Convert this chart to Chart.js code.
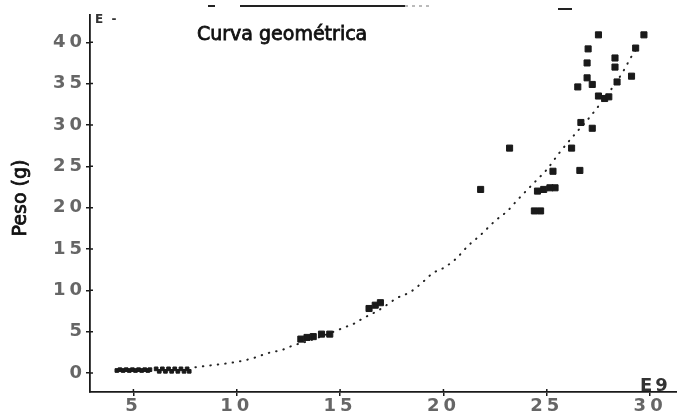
<!DOCTYPE html>
<html>
<head>
<meta charset="utf-8">
<script src="https://cdn.jsdelivr.net/npm/chart.js@4/dist/chart.umd.min.js"></script>
<style>
  html, body { margin: 0; padding: 0; background: #ffffff; }
  #wrap { width: 677px; height: 417px; }
</style>
</head>
<body>
<div id="wrap"><canvas id="chart" width="677" height="417"></canvas></div>
<script>
// Texts
const chartTitle = 'Curva geométrica';
const yAxisTitle = 'Peso (g)';
const xExponentLabel = 'E9';
const yExponentLabel = 'E -';

// Tick values
const xTickValues = [5, 10, 15, 20, 25, 30];
const yTickValues = [0, 5, 10, 15, 20, 25, 30, 35, 40];

// Small specimens near zero weight
const lowX = [4.2, 4.35, 4.5, 4.65, 4.8, 4.95, 5.1, 5.25, 5.4, 5.55, 5.7, 5.8,
              6.1, 6.25, 6.4, 6.55, 6.7, 6.85, 7.0, 7.15, 7.3, 7.45, 7.6, 7.7];
const lowY = [0.3, 0.4, 0.3, 0.4, 0.3, 0.4, 0.3, 0.4, 0.3, 0.4, 0.3, 0.4,
              0.5, 0.2, 0.5, 0.2, 0.5, 0.2, 0.5, 0.2, 0.5, 0.2, 0.5, 0.2];

// Measured weights
const pesoX = [13.1, 13.4, 13.7, 14.1, 14.5, 16.4, 16.7, 16.95, 21.8, 23.2, 24.4, 24.7,
               24.55, 24.85, 25.15, 25.4, 25.3, 26.6, 26.2, 26.65, 27.2, 27.5, 27.8, 28.0,
               26.5, 27.2, 28.4, 26.95, 29.1, 26.95, 28.3, 28.3, 27.0, 29.3, 27.5, 29.7];
const pesoY = [4.1, 4.3, 4.4, 4.7, 4.7, 7.8, 8.2, 8.5, 22.2, 27.2, 19.6, 19.6,
               22.0, 22.2, 22.4, 22.4, 24.4, 24.5, 27.2, 30.3, 29.6, 33.5, 33.2, 33.4,
               34.6, 34.9, 35.2, 35.7, 35.9, 37.5, 37.0, 38.1, 39.2, 39.3, 40.9, 40.9];

// Fitted geometric curve
const curvaX = [8.0, 9.0, 9.9, 10.8, 11.5, 12.2, 12.7, 13.5, 14.5, 15.2, 15.7, 16.1, 16.8, 17.3,
                17.7, 18.4, 19.0, 19.5, 20.0, 20.6, 21.2, 21.8, 22.5, 23.1, 23.5, 23.8, 24.5,
                25.0, 25.6, 26.4, 27.1, 27.6, 28.2, 28.7, 29.1, 29.4];
const curvaY = [0.7, 1.0, 1.3, 1.8, 2.4, 2.8, 3.3, 3.9, 4.8, 5.5, 6.0, 6.6, 7.5, 8.3,
                9.0, 9.8, 11.0, 12.1, 12.7, 13.8, 15.4, 16.7, 18.4, 19.6, 20.7, 21.5, 23.3,
                24.6, 26.6, 29.0, 31.0, 32.6, 34.6, 36.5, 38.3, 39.4];

const toPoints = (xs, ys) => xs.map((x, i) => ({ x: x, y: ys[i] }));

const INK = '#1a1a1a';
const tickFont = { family: 'DejaVu Sans', size: 18, weight: 'bold' };

// Spaced-out glyphs for the printer-style tick labels, plus inner tick marks and texts
const decorations = {
  id: 'decorations',
  beforeDraw(chart) {
    chart.ctx.letterSpacing = '4px';
  },
  afterDraw(chart) {
    const ctx = chart.ctx;
    ctx.letterSpacing = '0px';
    const xs = chart.scales.x, ys = chart.scales.y;
    const area = chart.chartArea;

    // inner halves of the cross-shaped tick marks
    ctx.save();
    ctx.strokeStyle = INK;
    ctx.lineWidth = 1.5;
    ctx.beginPath();
    yTickValues.forEach(v => {
      const py = ys.getPixelForValue(v);
      ctx.moveTo(area.left, py);
      ctx.lineTo(area.left + 3, py);
    });
    xTickValues.forEach(v => {
      const px = xs.getPixelForValue(v);
      ctx.moveTo(px, area.bottom);
      ctx.lineTo(px, area.bottom - 3);
    });
    ctx.stroke();

    // frame remnant along the top
    ctx.lineWidth = 2;
    ctx.strokeStyle = '#222';
    ctx.beginPath();
    ctx.moveTo(240, 6); ctx.lineTo(405, 6);
    ctx.moveTo(208, 6); ctx.lineTo(215, 6);
    ctx.moveTo(558, 9); ctx.lineTo(572, 9);
    ctx.stroke();
    ctx.lineWidth = 1;
    ctx.strokeStyle = '#777';
    ctx.setLineDash([3, 4]);
    ctx.beginPath();
    ctx.moveTo(405, 6); ctx.lineTo(432, 6);
    ctx.stroke();
    ctx.setLineDash([]);

    // title
    ctx.fillStyle = '#111';
    ctx.strokeStyle = '#111';
    ctx.lineWidth = 0.8;
    ctx.font = '19px "DejaVu Sans"';
    ctx.textAlign = 'left';
    ctx.textBaseline = 'alphabetic';
    ctx.fillText(chartTitle, 197, 40);
    ctx.strokeText(chartTitle, 197, 40);

    // y axis title
    ctx.save();
    ctx.translate(26, 198);
    ctx.rotate(-Math.PI / 2);
    ctx.textAlign = 'center';
    ctx.fillText(yAxisTitle, 0, 0);
    ctx.strokeText(yAxisTitle, 0, 0);
    ctx.restore();

    // exponent markers
    ctx.fillStyle = '#333';
    ctx.font = 'bold 18px "DejaVu Sans"';
    ctx.letterSpacing = '3px';
    ctx.textAlign = 'left';
    ctx.textBaseline = 'alphabetic';
    ctx.fillText(xExponentLabel, 640, 391);
    ctx.font = 'bold 12px "DejaVu Sans"';
    ctx.letterSpacing = '2px';
    ctx.fillText(yExponentLabel, 95, 23);
    ctx.letterSpacing = '0px';
    ctx.restore();
  }
};

new Chart(document.getElementById('chart'), {
  type: 'scatter',
  data: {
    datasets: [
      {
        label: 'Curva',
        type: 'line',
        data: toPoints(curvaX, curvaY),
        borderColor: '#222',
        borderWidth: 2,
        borderDash: [0.5, 7],
        borderCapStyle: 'round',
        pointRadius: 0,
        fill: false,
        cubicInterpolationMode: 'monotone',
        order: 2
      },
      {
        label: 'Peso bajo',
        data: toPoints(lowX, lowY),
        pointStyle: 'rect',
        pointRadius: 2.6,
        backgroundColor: INK,
        borderColor: INK,
        borderWidth: 1,
        order: 1
      },
      {
        label: 'Peso',
        data: toPoints(pesoX, pesoY),
        pointStyle: 'rect',
        pointRadius: 4.3,
        backgroundColor: INK,
        borderColor: INK,
        borderWidth: 1,
        order: 0
      }
    ]
  },
  options: {
    responsive: false,
    animation: false,
    devicePixelRatio: 1,
    layout: { autoPadding: false, padding: { top: 15, left: 0, right: 0, bottom: 0 } },
    plugins: {
      legend: { display: false },
      title: { display: false },
      tooltip: { enabled: false }
    },
    scales: {
      x: {
        type: 'linear',
        min: 2.9,
        max: 31.3,
        afterBuildTicks: s => { s.ticks = xTickValues.map(v => ({ value: v })); },
        afterFit: s => { s.height = 25; },
        grid: { drawOnChartArea: false, drawTicks: true, tickLength: 4, color: INK, lineWidth: 1.5 },
        border: { color: INK, width: 1.8 },
        ticks: { font: tickFont, color: '#666', padding: 0, maxRotation: 0, autoSkip: false }
      },
      y: {
        type: 'linear',
        min: -2.3,
        max: 43.3,
        afterBuildTicks: s => { s.ticks = yTickValues.map(v => ({ value: v })); },
        afterFit: s => { s.width = 90; },
        grid: { drawOnChartArea: false, drawTicks: true, tickLength: 4, color: INK, lineWidth: 1.5 },
        border: { color: INK, width: 1.8 },
        ticks: { font: tickFont, color: '#666', padding: 0, autoSkip: false }
      }
    }
  },
  plugins: [decorations]
});
</script>
</body>
</html>
